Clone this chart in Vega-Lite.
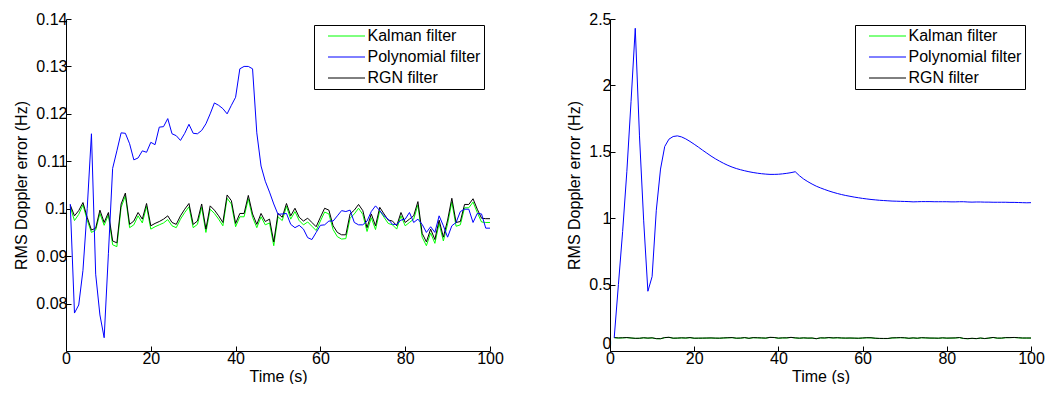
{
"$schema": "https://vega.github.io/schema/vega-lite/v6.json",
"background": "white",
"padding": {"left": 13, "top": 11, "right": 0, "bottom": 0},
"spacing": 120,
"bounds": "flush",
"config": {
  "font": "Liberation Sans",
  "view": {"stroke": null},
  "axis": {"domainColor": "black", "tickColor": "black", "labelColor": "black", "titleColor": "black", "labelFontSize": 16, "titleFontSize": 16, "titleFontWeight": "normal", "tickSize": -5, "grid": false, "labelPadding": 4, "domainWidth": 1, "tickWidth": 1},
  "legend": {"orient": "top-right", "offset": 6, "strokeColor": "black", "fillColor": "white", "padding": 3, "labelFontSize": 16, "labelColor": "black", "symbolType": "M-3.7,0H3.7", "symbolSize": 100, "symbolStrokeWidth": 1, "symbolOffset": 21.5, "labelOffset": 13, "rowPadding": 5, "cornerRadius": 0, "strokeWidth": 1}
},
"datasets": {"d": [
{"p":"B","s":"Kalman filter","t":1,"v":0.1004},{"p":"B","s":"Kalman filter","t":2,"v":0.0975},{"p":"B","s":"Kalman filter","t":3,"v":0.0988},{"p":"B","s":"Kalman filter","t":4,"v":0.1008},{"p":"B","s":"Kalman filter","t":5,"v":0.0976},{"p":"B","s":"Kalman filter","t":6,"v":0.095},{"p":"B","s":"Kalman filter","t":7,"v":0.0955},{"p":"B","s":"Kalman filter","t":8,"v":0.099},{"p":"B","s":"Kalman filter","t":9,"v":0.0965},{"p":"B","s":"Kalman filter","t":10,"v":0.0987},
{"p":"B","s":"Kalman filter","t":11,"v":0.0924},{"p":"B","s":"Kalman filter","t":12,"v":0.092},{"p":"B","s":"Kalman filter","t":13,"v":0.1003},{"p":"B","s":"Kalman filter","t":14,"v":0.1027},{"p":"B","s":"Kalman filter","t":15,"v":0.096},{"p":"B","s":"Kalman filter","t":16,"v":0.0966},{"p":"B","s":"Kalman filter","t":17,"v":0.0985},{"p":"B","s":"Kalman filter","t":18,"v":0.097},{"p":"B","s":"Kalman filter","t":19,"v":0.1005},{"p":"B","s":"Kalman filter","t":20,"v":0.0957},
{"p":"B","s":"Kalman filter","t":21,"v":0.0962},{"p":"B","s":"Kalman filter","t":22,"v":0.0966},{"p":"B","s":"Kalman filter","t":23,"v":0.097},{"p":"B","s":"Kalman filter","t":24,"v":0.0977},{"p":"B","s":"Kalman filter","t":25,"v":0.0964},{"p":"B","s":"Kalman filter","t":26,"v":0.096},{"p":"B","s":"Kalman filter","t":27,"v":0.0978},{"p":"B","s":"Kalman filter","t":28,"v":0.0992},{"p":"B","s":"Kalman filter","t":29,"v":0.1004},{"p":"B","s":"Kalman filter","t":30,"v":0.096},
{"p":"B","s":"Kalman filter","t":31,"v":0.0967},{"p":"B","s":"Kalman filter","t":32,"v":0.1003},{"p":"B","s":"Kalman filter","t":33,"v":0.095},{"p":"B","s":"Kalman filter","t":34,"v":0.0999},{"p":"B","s":"Kalman filter","t":35,"v":0.099},{"p":"B","s":"Kalman filter","t":36,"v":0.0978},{"p":"B","s":"Kalman filter","t":37,"v":0.0964},{"p":"B","s":"Kalman filter","t":38,"v":0.1022},{"p":"B","s":"Kalman filter","t":39,"v":0.101},{"p":"B","s":"Kalman filter","t":40,"v":0.0962},
{"p":"B","s":"Kalman filter","t":41,"v":0.0983},{"p":"B","s":"Kalman filter","t":42,"v":0.0983},{"p":"B","s":"Kalman filter","t":43,"v":0.1021},{"p":"B","s":"Kalman filter","t":44,"v":0.0982},{"p":"B","s":"Kalman filter","t":45,"v":0.096},{"p":"B","s":"Kalman filter","t":46,"v":0.0983},{"p":"B","s":"Kalman filter","t":47,"v":0.0966},{"p":"B","s":"Kalman filter","t":48,"v":0.097},{"p":"B","s":"Kalman filter","t":49,"v":0.0922},{"p":"B","s":"Kalman filter","t":50,"v":0.0983},
{"p":"B","s":"Kalman filter","t":51,"v":0.0975},{"p":"B","s":"Kalman filter","t":52,"v":0.1005},{"p":"B","s":"Kalman filter","t":53,"v":0.0978},{"p":"B","s":"Kalman filter","t":54,"v":0.0994},{"p":"B","s":"Kalman filter","t":55,"v":0.0975},{"p":"B","s":"Kalman filter","t":56,"v":0.0966},{"p":"B","s":"Kalman filter","t":57,"v":0.0972},{"p":"B","s":"Kalman filter","t":58,"v":0.0963},{"p":"B","s":"Kalman filter","t":59,"v":0.0954},{"p":"B","s":"Kalman filter","t":60,"v":0.0974},
{"p":"B","s":"Kalman filter","t":61,"v":0.0993},{"p":"B","s":"Kalman filter","t":62,"v":0.0989},{"p":"B","s":"Kalman filter","t":63,"v":0.0956},{"p":"B","s":"Kalman filter","t":64,"v":0.0941},{"p":"B","s":"Kalman filter","t":65,"v":0.0936},{"p":"B","s":"Kalman filter","t":66,"v":0.0937},{"p":"B","s":"Kalman filter","t":67,"v":0.098},{"p":"B","s":"Kalman filter","t":68,"v":0.0989},{"p":"B","s":"Kalman filter","t":69,"v":0.1001},{"p":"B","s":"Kalman filter","t":70,"v":0.0988},
{"p":"B","s":"Kalman filter","t":71,"v":0.0952},{"p":"B","s":"Kalman filter","t":72,"v":0.0981},{"p":"B","s":"Kalman filter","t":73,"v":0.0956},{"p":"B","s":"Kalman filter","t":74,"v":0.0996},{"p":"B","s":"Kalman filter","t":75,"v":0.0982},{"p":"B","s":"Kalman filter","t":76,"v":0.0969},{"p":"B","s":"Kalman filter","t":77,"v":0.0966},{"p":"B","s":"Kalman filter","t":78,"v":0.0957},{"p":"B","s":"Kalman filter","t":79,"v":0.0985},{"p":"B","s":"Kalman filter","t":80,"v":0.0964},
{"p":"B","s":"Kalman filter","t":81,"v":0.0971},{"p":"B","s":"Kalman filter","t":82,"v":0.0978},{"p":"B","s":"Kalman filter","t":83,"v":0.1008},{"p":"B","s":"Kalman filter","t":84,"v":0.094},{"p":"B","s":"Kalman filter","t":85,"v":0.0922},{"p":"B","s":"Kalman filter","t":86,"v":0.0949},{"p":"B","s":"Kalman filter","t":87,"v":0.0927},{"p":"B","s":"Kalman filter","t":88,"v":0.0969},{"p":"B","s":"Kalman filter","t":89,"v":0.0932},{"p":"B","s":"Kalman filter","t":90,"v":0.0968},
{"p":"B","s":"Kalman filter","t":91,"v":0.1014},{"p":"B","s":"Kalman filter","t":92,"v":0.0963},{"p":"B","s":"Kalman filter","t":93,"v":0.0966},{"p":"B","s":"Kalman filter","t":94,"v":0.1002},{"p":"B","s":"Kalman filter","t":95,"v":0.1002},{"p":"B","s":"Kalman filter","t":96,"v":0.1014},{"p":"B","s":"Kalman filter","t":97,"v":0.0992},{"p":"B","s":"Kalman filter","t":98,"v":0.0972},{"p":"B","s":"Kalman filter","t":99,"v":0.0971},{"p":"B","s":"Kalman filter","t":100,"v":0.0971},
{"p":"B","s":"RGN filter","t":1,"v":0.1008},{"p":"B","s":"RGN filter","t":2,"v":0.0985},{"p":"B","s":"RGN filter","t":3,"v":0.0996},{"p":"B","s":"RGN filter","t":4,"v":0.1013},{"p":"B","s":"RGN filter","t":5,"v":0.0982},{"p":"B","s":"RGN filter","t":6,"v":0.0955},{"p":"B","s":"RGN filter","t":7,"v":0.0959},{"p":"B","s":"RGN filter","t":8,"v":0.0997},{"p":"B","s":"RGN filter","t":9,"v":0.0971},{"p":"B","s":"RGN filter","t":10,"v":0.0992},
{"p":"B","s":"RGN filter","t":11,"v":0.0932},{"p":"B","s":"RGN filter","t":12,"v":0.0928},{"p":"B","s":"RGN filter","t":13,"v":0.101},{"p":"B","s":"RGN filter","t":14,"v":0.1033},{"p":"B","s":"RGN filter","t":15,"v":0.0967},{"p":"B","s":"RGN filter","t":16,"v":0.0974},{"p":"B","s":"RGN filter","t":17,"v":0.0992},{"p":"B","s":"RGN filter","t":18,"v":0.0978},{"p":"B","s":"RGN filter","t":19,"v":0.1011},{"p":"B","s":"RGN filter","t":20,"v":0.0964},
{"p":"B","s":"RGN filter","t":21,"v":0.0969},{"p":"B","s":"RGN filter","t":22,"v":0.0973},{"p":"B","s":"RGN filter","t":23,"v":0.0978},{"p":"B","s":"RGN filter","t":24,"v":0.0985},{"p":"B","s":"RGN filter","t":25,"v":0.0971},{"p":"B","s":"RGN filter","t":26,"v":0.0967},{"p":"B","s":"RGN filter","t":27,"v":0.0985},{"p":"B","s":"RGN filter","t":28,"v":0.0999},{"p":"B","s":"RGN filter","t":29,"v":0.1011},{"p":"B","s":"RGN filter","t":30,"v":0.0967},
{"p":"B","s":"RGN filter","t":31,"v":0.0974},{"p":"B","s":"RGN filter","t":32,"v":0.101},{"p":"B","s":"RGN filter","t":33,"v":0.0957},{"p":"B","s":"RGN filter","t":34,"v":0.1006},{"p":"B","s":"RGN filter","t":35,"v":0.0997},{"p":"B","s":"RGN filter","t":36,"v":0.0985},{"p":"B","s":"RGN filter","t":37,"v":0.0971},{"p":"B","s":"RGN filter","t":38,"v":0.1029},{"p":"B","s":"RGN filter","t":39,"v":0.1017},{"p":"B","s":"RGN filter","t":40,"v":0.0969},
{"p":"B","s":"RGN filter","t":41,"v":0.099},{"p":"B","s":"RGN filter","t":42,"v":0.099},{"p":"B","s":"RGN filter","t":43,"v":0.1028},{"p":"B","s":"RGN filter","t":44,"v":0.0989},{"p":"B","s":"RGN filter","t":45,"v":0.0967},{"p":"B","s":"RGN filter","t":46,"v":0.099},{"p":"B","s":"RGN filter","t":47,"v":0.0973},{"p":"B","s":"RGN filter","t":48,"v":0.0978},{"p":"B","s":"RGN filter","t":49,"v":0.093},{"p":"B","s":"RGN filter","t":50,"v":0.099},
{"p":"B","s":"RGN filter","t":51,"v":0.0982},{"p":"B","s":"RGN filter","t":52,"v":0.1011},{"p":"B","s":"RGN filter","t":53,"v":0.0985},{"p":"B","s":"RGN filter","t":54,"v":0.1001},{"p":"B","s":"RGN filter","t":55,"v":0.0982},{"p":"B","s":"RGN filter","t":56,"v":0.0974},{"p":"B","s":"RGN filter","t":57,"v":0.098},{"p":"B","s":"RGN filter","t":58,"v":0.0971},{"p":"B","s":"RGN filter","t":59,"v":0.0962},{"p":"B","s":"RGN filter","t":60,"v":0.0982},
{"p":"B","s":"RGN filter","t":61,"v":0.1001},{"p":"B","s":"RGN filter","t":62,"v":0.0997},{"p":"B","s":"RGN filter","t":63,"v":0.0964},{"p":"B","s":"RGN filter","t":64,"v":0.095},{"p":"B","s":"RGN filter","t":65,"v":0.0945},{"p":"B","s":"RGN filter","t":66,"v":0.0945},{"p":"B","s":"RGN filter","t":67,"v":0.0989},{"p":"B","s":"RGN filter","t":68,"v":0.0997},{"p":"B","s":"RGN filter","t":69,"v":0.1009},{"p":"B","s":"RGN filter","t":70,"v":0.0996},
{"p":"B","s":"RGN filter","t":71,"v":0.096},{"p":"B","s":"RGN filter","t":72,"v":0.0989},{"p":"B","s":"RGN filter","t":73,"v":0.0964},{"p":"B","s":"RGN filter","t":74,"v":0.1003},{"p":"B","s":"RGN filter","t":75,"v":0.0989},{"p":"B","s":"RGN filter","t":76,"v":0.0976},{"p":"B","s":"RGN filter","t":77,"v":0.0974},{"p":"B","s":"RGN filter","t":78,"v":0.0964},{"p":"B","s":"RGN filter","t":79,"v":0.0992},{"p":"B","s":"RGN filter","t":80,"v":0.0971},
{"p":"B","s":"RGN filter","t":81,"v":0.0978},{"p":"B","s":"RGN filter","t":82,"v":0.0985},{"p":"B","s":"RGN filter","t":83,"v":0.1015},{"p":"B","s":"RGN filter","t":84,"v":0.0948},{"p":"B","s":"RGN filter","t":85,"v":0.093},{"p":"B","s":"RGN filter","t":86,"v":0.0957},{"p":"B","s":"RGN filter","t":87,"v":0.0935},{"p":"B","s":"RGN filter","t":88,"v":0.0976},{"p":"B","s":"RGN filter","t":89,"v":0.094},{"p":"B","s":"RGN filter","t":90,"v":0.0976},
{"p":"B","s":"RGN filter","t":91,"v":0.1022},{"p":"B","s":"RGN filter","t":92,"v":0.0971},{"p":"B","s":"RGN filter","t":93,"v":0.0973},{"p":"B","s":"RGN filter","t":94,"v":0.1009},{"p":"B","s":"RGN filter","t":95,"v":0.1009},{"p":"B","s":"RGN filter","t":96,"v":0.1021},{"p":"B","s":"RGN filter","t":97,"v":0.0999},{"p":"B","s":"RGN filter","t":98,"v":0.098},{"p":"B","s":"RGN filter","t":99,"v":0.0979},{"p":"B","s":"RGN filter","t":100,"v":0.0979},
{"p":"L","s":"Polynomial filter","t":1,"v":0.101},{"p":"L","s":"Polynomial filter","t":2,"v":0.078},{"p":"L","s":"Polynomial filter","t":3,"v":0.0797},{"p":"L","s":"Polynomial filter","t":4,"v":0.087},{"p":"L","s":"Polynomial filter","t":5,"v":0.1},{"p":"L","s":"Polynomial filter","t":6,"v":0.1158},{"p":"L","s":"Polynomial filter","t":7,"v":0.0862},{"p":"L","s":"Polynomial filter","t":8,"v":0.0776},{"p":"L","s":"Polynomial filter","t":9,"v":0.0728},{"p":"L","s":"Polynomial filter","t":10,"v":0.0905},
{"p":"L","s":"Polynomial filter","t":11,"v":0.1085},{"p":"L","s":"Polynomial filter","t":12,"v":0.1122},{"p":"L","s":"Polynomial filter","t":13,"v":0.116},{"p":"L","s":"Polynomial filter","t":14,"v":0.1159},{"p":"L","s":"Polynomial filter","t":15,"v":0.1137},{"p":"L","s":"Polynomial filter","t":16,"v":0.1103},{"p":"L","s":"Polynomial filter","t":17,"v":0.1107},{"p":"L","s":"Polynomial filter","t":18,"v":0.1122},{"p":"L","s":"Polynomial filter","t":19,"v":0.1119},{"p":"L","s":"Polynomial filter","t":20,"v":0.114},
{"p":"L","s":"Polynomial filter","t":21,"v":0.1135},{"p":"L","s":"Polynomial filter","t":22,"v":0.1172},{"p":"L","s":"Polynomial filter","t":23,"v":0.1173},{"p":"L","s":"Polynomial filter","t":24,"v":0.119},{"p":"L","s":"Polynomial filter","t":25,"v":0.1158},{"p":"L","s":"Polynomial filter","t":26,"v":0.1154},{"p":"L","s":"Polynomial filter","t":27,"v":0.1144},{"p":"L","s":"Polynomial filter","t":28,"v":0.1159},{"p":"L","s":"Polynomial filter","t":29,"v":0.1178},{"p":"L","s":"Polynomial filter","t":30,"v":0.1159},
{"p":"L","s":"Polynomial filter","t":31,"v":0.1158},{"p":"L","s":"Polynomial filter","t":32,"v":0.1165},{"p":"L","s":"Polynomial filter","t":33,"v":0.1179},{"p":"L","s":"Polynomial filter","t":34,"v":0.12},{"p":"L","s":"Polynomial filter","t":35,"v":0.1223},{"p":"L","s":"Polynomial filter","t":36,"v":0.1218},{"p":"L","s":"Polynomial filter","t":37,"v":0.1211},{"p":"L","s":"Polynomial filter","t":38,"v":0.12},{"p":"L","s":"Polynomial filter","t":39,"v":0.1218},{"p":"L","s":"Polynomial filter","t":40,"v":0.1235},
{"p":"L","s":"Polynomial filter","t":41,"v":0.1295},{"p":"L","s":"Polynomial filter","t":42,"v":0.13},{"p":"L","s":"Polynomial filter","t":43,"v":0.13},{"p":"L","s":"Polynomial filter","t":44,"v":0.1295},{"p":"L","s":"Polynomial filter","t":45,"v":0.116},{"p":"L","s":"Polynomial filter","t":46,"v":0.109},{"p":"L","s":"Polynomial filter","t":47,"v":0.1058},{"p":"L","s":"Polynomial filter","t":48,"v":0.1035},{"p":"L","s":"Polynomial filter","t":49,"v":0.101},{"p":"L","s":"Polynomial filter","t":50,"v":0.0988},
{"p":"L","s":"Polynomial filter","t":51,"v":0.0989},{"p":"L","s":"Polynomial filter","t":52,"v":0.099},{"p":"L","s":"Polynomial filter","t":53,"v":0.0967},{"p":"L","s":"Polynomial filter","t":54,"v":0.096},{"p":"L","s":"Polynomial filter","t":55,"v":0.0965},{"p":"L","s":"Polynomial filter","t":56,"v":0.0957},{"p":"L","s":"Polynomial filter","t":57,"v":0.0939},{"p":"L","s":"Polynomial filter","t":58,"v":0.0935},{"p":"L","s":"Polynomial filter","t":59,"v":0.095},{"p":"L","s":"Polynomial filter","t":60,"v":0.0965},
{"p":"L","s":"Polynomial filter","t":61,"v":0.0966},{"p":"L","s":"Polynomial filter","t":62,"v":0.0974},{"p":"L","s":"Polynomial filter","t":63,"v":0.0974},{"p":"L","s":"Polynomial filter","t":64,"v":0.0985},{"p":"L","s":"Polynomial filter","t":65,"v":0.0996},{"p":"L","s":"Polynomial filter","t":66,"v":0.0994},{"p":"L","s":"Polynomial filter","t":67,"v":0.0997},{"p":"L","s":"Polynomial filter","t":68,"v":0.0971},{"p":"L","s":"Polynomial filter","t":69,"v":0.0966},{"p":"L","s":"Polynomial filter","t":70,"v":0.0966},
{"p":"L","s":"Polynomial filter","t":71,"v":0.0974},{"p":"L","s":"Polynomial filter","t":72,"v":0.0994},{"p":"L","s":"Polynomial filter","t":73,"v":0.1006},{"p":"L","s":"Polynomial filter","t":74,"v":0.0996},{"p":"L","s":"Polynomial filter","t":75,"v":0.0985},{"p":"L","s":"Polynomial filter","t":76,"v":0.0978},{"p":"L","s":"Polynomial filter","t":77,"v":0.0967},{"p":"L","s":"Polynomial filter","t":78,"v":0.0967},{"p":"L","s":"Polynomial filter","t":79,"v":0.0976},{"p":"L","s":"Polynomial filter","t":80,"v":0.0978},
{"p":"L","s":"Polynomial filter","t":81,"v":0.0992},{"p":"L","s":"Polynomial filter","t":82,"v":0.0971},{"p":"L","s":"Polynomial filter","t":83,"v":0.0978},{"p":"L","s":"Polynomial filter","t":84,"v":0.0967},{"p":"L","s":"Polynomial filter","t":85,"v":0.095},{"p":"L","s":"Polynomial filter","t":86,"v":0.0962},{"p":"L","s":"Polynomial filter","t":87,"v":0.095},{"p":"L","s":"Polynomial filter","t":88,"v":0.0985},{"p":"L","s":"Polynomial filter","t":89,"v":0.0964},{"p":"L","s":"Polynomial filter","t":90,"v":0.094},
{"p":"L","s":"Polynomial filter","t":91,"v":0.0964},{"p":"L","s":"Polynomial filter","t":92,"v":0.0971},{"p":"L","s":"Polynomial filter","t":93,"v":0.0994},{"p":"L","s":"Polynomial filter","t":94,"v":0.0999},{"p":"L","s":"Polynomial filter","t":95,"v":0.0999},{"p":"L","s":"Polynomial filter","t":96,"v":0.0971},{"p":"L","s":"Polynomial filter","t":97,"v":0.099},{"p":"L","s":"Polynomial filter","t":98,"v":0.0989},{"p":"L","s":"Polynomial filter","t":99,"v":0.0959},{"p":"L","s":"Polynomial filter","t":100,"v":0.0959},
{"p":"R","s":"Polynomial filter","t":1,"v":0.1},{"p":"R","s":"Polynomial filter","t":2,"v":0.5},{"p":"R","s":"Polynomial filter","t":3,"v":0.9},{"p":"R","s":"Polynomial filter","t":4,"v":1.35},{"p":"R","s":"Polynomial filter","t":5,"v":1.88},{"p":"R","s":"Polynomial filter","t":6,"v":2.43},{"p":"R","s":"Polynomial filter","t":7,"v":1.62},{"p":"R","s":"Polynomial filter","t":8,"v":0.98},{"p":"R","s":"Polynomial filter","t":9,"v":0.45},{"p":"R","s":"Polynomial filter","t":10,"v":0.56},
{"p":"R","s":"Polynomial filter","t":11,"v":1.06},{"p":"R","s":"Polynomial filter","t":12,"v":1.37},{"p":"R","s":"Polynomial filter","t":13,"v":1.54},{"p":"R","s":"Polynomial filter","t":14,"v":1.595},{"p":"R","s":"Polynomial filter","t":15,"v":1.615},{"p":"R","s":"Polynomial filter","t":16,"v":1.62},{"p":"R","s":"Polynomial filter","t":17,"v":1.612},{"p":"R","s":"Polynomial filter","t":18,"v":1.597},{"p":"R","s":"Polynomial filter","t":19,"v":1.578},{"p":"R","s":"Polynomial filter","t":20,"v":1.557},
{"p":"R","s":"Polynomial filter","t":21,"v":1.535},{"p":"R","s":"Polynomial filter","t":22,"v":1.512},{"p":"R","s":"Polynomial filter","t":23,"v":1.49},{"p":"R","s":"Polynomial filter","t":24,"v":1.468},{"p":"R","s":"Polynomial filter","t":25,"v":1.448},{"p":"R","s":"Polynomial filter","t":26,"v":1.43},{"p":"R","s":"Polynomial filter","t":27,"v":1.413},{"p":"R","s":"Polynomial filter","t":28,"v":1.398},{"p":"R","s":"Polynomial filter","t":29,"v":1.385},{"p":"R","s":"Polynomial filter","t":30,"v":1.374},
{"p":"R","s":"Polynomial filter","t":31,"v":1.365},{"p":"R","s":"Polynomial filter","t":32,"v":1.357},{"p":"R","s":"Polynomial filter","t":33,"v":1.35},{"p":"R","s":"Polynomial filter","t":34,"v":1.344},{"p":"R","s":"Polynomial filter","t":35,"v":1.339},{"p":"R","s":"Polynomial filter","t":36,"v":1.335},{"p":"R","s":"Polynomial filter","t":37,"v":1.332},{"p":"R","s":"Polynomial filter","t":38,"v":1.33},{"p":"R","s":"Polynomial filter","t":39,"v":1.33},{"p":"R","s":"Polynomial filter","t":40,"v":1.331},
{"p":"R","s":"Polynomial filter","t":41,"v":1.334},{"p":"R","s":"Polynomial filter","t":42,"v":1.338},{"p":"R","s":"Polynomial filter","t":43,"v":1.343},{"p":"R","s":"Polynomial filter","t":44,"v":1.35},{"p":"R","s":"Polynomial filter","t":45,"v":1.32},{"p":"R","s":"Polynomial filter","t":46,"v":1.295},{"p":"R","s":"Polynomial filter","t":47,"v":1.275},{"p":"R","s":"Polynomial filter","t":48,"v":1.257},{"p":"R","s":"Polynomial filter","t":49,"v":1.241},{"p":"R","s":"Polynomial filter","t":50,"v":1.228},
{"p":"R","s":"Polynomial filter","t":51,"v":1.216},{"p":"R","s":"Polynomial filter","t":52,"v":1.205},{"p":"R","s":"Polynomial filter","t":53,"v":1.195},{"p":"R","s":"Polynomial filter","t":54,"v":1.186},{"p":"R","s":"Polynomial filter","t":55,"v":1.178},{"p":"R","s":"Polynomial filter","t":56,"v":1.171},{"p":"R","s":"Polynomial filter","t":57,"v":1.165},{"p":"R","s":"Polynomial filter","t":58,"v":1.159},{"p":"R","s":"Polynomial filter","t":59,"v":1.154},{"p":"R","s":"Polynomial filter","t":60,"v":1.149},
{"p":"R","s":"Polynomial filter","t":61,"v":1.145},{"p":"R","s":"Polynomial filter","t":62,"v":1.141},{"p":"R","s":"Polynomial filter","t":63,"v":1.138},{"p":"R","s":"Polynomial filter","t":64,"v":1.135},{"p":"R","s":"Polynomial filter","t":65,"v":1.133},{"p":"R","s":"Polynomial filter","t":66,"v":1.131},{"p":"R","s":"Polynomial filter","t":67,"v":1.129},{"p":"R","s":"Polynomial filter","t":68,"v":1.128},{"p":"R","s":"Polynomial filter","t":69,"v":1.127},{"p":"R","s":"Polynomial filter","t":70,"v":1.126},
{"p":"R","s":"Polynomial filter","t":71,"v":1.125},{"p":"R","s":"Polynomial filter","t":72,"v":1.123},{"p":"R","s":"Polynomial filter","t":73,"v":1.124},{"p":"R","s":"Polynomial filter","t":74,"v":1.125},{"p":"R","s":"Polynomial filter","t":75,"v":1.125},{"p":"R","s":"Polynomial filter","t":76,"v":1.125},{"p":"R","s":"Polynomial filter","t":77,"v":1.124},{"p":"R","s":"Polynomial filter","t":78,"v":1.124},{"p":"R","s":"Polynomial filter","t":79,"v":1.124},{"p":"R","s":"Polynomial filter","t":80,"v":1.124},
{"p":"R","s":"Polynomial filter","t":81,"v":1.123},{"p":"R","s":"Polynomial filter","t":82,"v":1.123},{"p":"R","s":"Polynomial filter","t":83,"v":1.124},{"p":"R","s":"Polynomial filter","t":84,"v":1.124},{"p":"R","s":"Polynomial filter","t":85,"v":1.122},{"p":"R","s":"Polynomial filter","t":86,"v":1.121},{"p":"R","s":"Polynomial filter","t":87,"v":1.122},{"p":"R","s":"Polynomial filter","t":88,"v":1.122},{"p":"R","s":"Polynomial filter","t":89,"v":1.121},{"p":"R","s":"Polynomial filter","t":90,"v":1.121},
{"p":"R","s":"Polynomial filter","t":91,"v":1.12},{"p":"R","s":"Polynomial filter","t":92,"v":1.12},{"p":"R","s":"Polynomial filter","t":93,"v":1.12},{"p":"R","s":"Polynomial filter","t":94,"v":1.12},{"p":"R","s":"Polynomial filter","t":95,"v":1.119},{"p":"R","s":"Polynomial filter","t":96,"v":1.119},{"p":"R","s":"Polynomial filter","t":97,"v":1.118},{"p":"R","s":"Polynomial filter","t":98,"v":1.117},{"p":"R","s":"Polynomial filter","t":99,"v":1.116},{"p":"R","s":"Polynomial filter","t":100,"v":1.117}
]},
"hconcat": [
  {
    "width": 424, "height": 332,
    "data": {"name": "d"},
    "transform": [{"filter": "datum.p != 'R'"}],
    "mark": {"type": "line", "strokeWidth": 1},
    "encoding": {
      "x": {"field": "t", "type": "quantitative", "scale": {"domain": [0, 100], "nice": false}, "axis": {"values": [0, 20, 40, 60, 80, 100], "title": "Time (s)", "titlePadding": 2, "labelFlush": false}},
      "y": {"field": "v", "type": "quantitative", "scale": {"domain": [0.07, 0.14], "nice": false, "zero": false}, "axis": {"values": [0.08, 0.09, 0.1, 0.11, 0.12, 0.13, 0.14], "format": "~g", "title": "RMS Doppler error (Hz)", "titlePadding": 6}},
      "color": {"field": "s", "type": "nominal", "scale": {"domain": ["Kalman filter", "Polynomial filter", "RGN filter"], "range": ["#00ff00", "#0000ff", "#000000"]}, "legend": {"title": null}}
    }
  },
  {
    "width": 421, "height": 332,
    "data": {"name": "d"},
    "transform": [{"filter": "datum.p != 'L'"}],
    "mark": {"type": "line", "strokeWidth": 1},
    "encoding": {
      "x": {"field": "t", "type": "quantitative", "scale": {"domain": [0, 100], "nice": false}, "axis": {"values": [0, 20, 40, 60, 80, 100], "title": "Time (s)", "titlePadding": 2, "labelFlush": false}},
      "y": {"field": "v", "type": "quantitative", "scale": {"domain": [0, 2.5], "nice": false}, "axis": {"values": [0, 0.5, 1, 1.5, 2, 2.5], "format": "~g", "title": "RMS Doppler error (Hz)", "titlePadding": 6, "labelBaseline": {"condition": {"test": "datum.value === 0", "value": "bottom"}, "value": "middle"}}},
      "color": {"field": "s", "type": "nominal", "scale": {"domain": ["Kalman filter", "Polynomial filter", "RGN filter"], "range": ["#00ff00", "#0000ff", "#000000"]}, "legend": {"title": null}}
    }
  }
],
"resolve": {"scale": {"color": "independent"}, "legend": {"color": "independent"}}
}
